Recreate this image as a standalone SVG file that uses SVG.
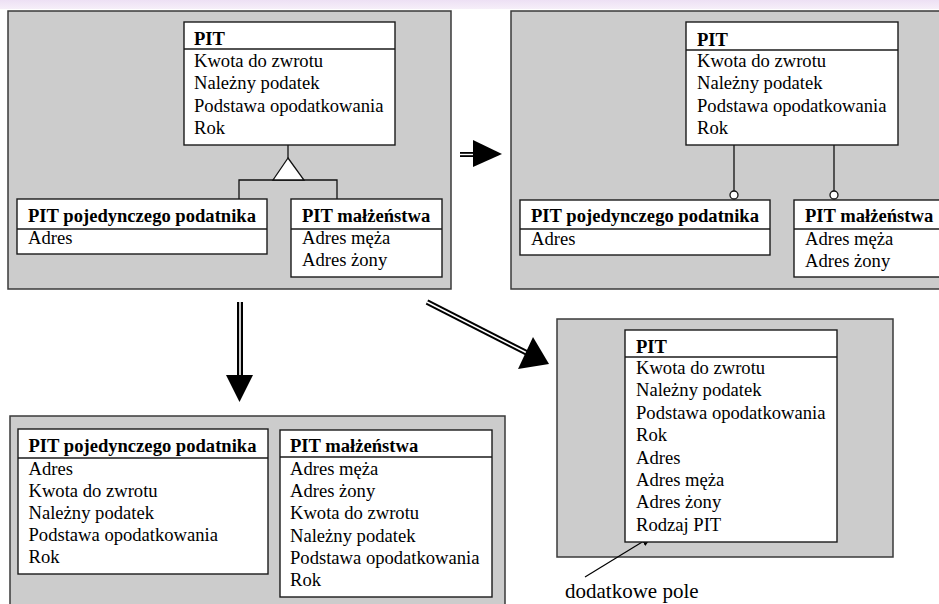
<svg xmlns="http://www.w3.org/2000/svg" width="939" height="604" viewBox="0 0 939 604">
<defs>
<linearGradient id="band" x1="0" y1="0" x2="0" y2="1">
<stop offset="0" stop-color="#ede0f4"/>
<stop offset="1" stop-color="#f6eff9"/>
</linearGradient>
<marker id="tip" markerWidth="12" markerHeight="10" refX="11" refY="5" orient="auto" markerUnits="userSpaceOnUse">
<path d="M0,0 L12,5 L0,10 z" fill="#000"/>
</marker>
</defs>
<style>
.panel{fill:#cccccc;stroke:#3a3a3a;stroke-width:1.5}
.box{fill:#ffffff;stroke:#1a1a1a;stroke-width:1.4}
.sep{stroke:#1a1a1a;stroke-width:1.4}
.ln{stroke:#111;stroke-width:1.3;fill:none}
text{font-family:"Liberation Serif","Times New Roman",serif;font-size:18.6px;fill:#000}
.h{font-weight:bold}
.shaft{stroke:#000;stroke-width:6;fill:none}
.shaftin{stroke:#fff;stroke-width:1.6;fill:none}
.head{fill:#000}
.circ{fill:#fff;stroke:#111;stroke-width:1.3}
</style>
<rect x="0" y="0" width="939" height="604" fill="#fff"/>
<rect x="0" y="0" width="939" height="9" fill="url(#band)"/>

<g id="panel-top-left">
<rect class="panel" x="8" y="11" width="443" height="278"/>
</g>
<g id="panel-top-right">
<rect class="panel" x="511" y="11" width="440" height="278"/>
</g>
<g id="panel-bottom-left">
<rect class="panel" x="10" y="416" width="495" height="200"/>
</g>
<g id="panel-bottom-right">
<rect class="panel" x="557" y="319" width="336" height="238"/>
</g>

<g id="connectors">
<!-- generalization -->
<line class="ln" x1="288" y1="145" x2="288" y2="158"/>
<polyline class="ln" points="239,199 239,180 337,180 337,199"/>
<polygon points="288,158 273,180 304,180" fill="#fff" stroke="#111" stroke-width="1.3"/>
<!-- optional links -->
<line class="ln" x1="734" y1="145" x2="734" y2="191"/>
<circle class="circ" cx="734" cy="195" r="4"/>
<line class="ln" x1="834" y1="145" x2="834" y2="191"/>
<circle class="circ" cx="834" cy="195" r="4"/>
<!-- transformation arrows -->
<line class="shaft" x1="460" y1="154.5" x2="475" y2="154.5" style="stroke-width:5"/>
<line class="shaftin" x1="460" y1="154.5" x2="475" y2="154.5" style="stroke-width:1.4"/>
<polygon class="head" points="473,140 502,154 473,167"/>
<line class="shaft" x1="240" y1="302" x2="240" y2="377"/>
<line class="shaftin" x1="240" y1="302" x2="240" y2="377"/>
<polygon class="head" points="226,375 253,375 239.5,402"/>
<line class="shaft" x1="427" y1="302" x2="527" y2="353" style="stroke-width:5.5"/>
<line class="shaftin" x1="427" y1="302" x2="527" y2="353"/>
<polygon class="head" points="533,337 549,364 518,369"/>
<!-- pointer -->
<line x1="585" y1="577" x2="652" y2="536" stroke="#000" stroke-width="1.2" marker-end="url(#tip)"/>
</g>

<g id="tl-pit">
<rect class="box" x="184" y="22" width="211" height="123"/>
<line class="sep" x1="184" y1="49" x2="395" y2="49"/>
<text class="h" x="194" y="45">PIT</text>
<text x="194" y="67">Kwota do zwrotu</text>
<text x="194" y="89.3">Należny podatek</text>
<text x="194" y="111.5">Podstawa opodatkowania</text>
<text x="194" y="133.7">Rok</text>
</g>
<g id="tl-pojedynczy">
<rect class="box" x="17" y="199" width="250" height="55"/>
<line class="sep" x1="17" y1="229" x2="267" y2="229"/>
<text class="h" x="28" y="222">PIT pojedynczego podatnika</text>
<text x="28" y="244">Adres</text>
</g>
<g id="tl-malzenstwo">
<rect class="box" x="291" y="199" width="151" height="78"/>
<line class="sep" x1="291" y1="229" x2="442" y2="229"/>
<text class="h" x="302" y="222">PIT małżeństwa</text>
<text x="302" y="244">Adres męża</text>
<text x="302" y="266">Adres żony</text>
</g>

<g id="tr-pit">
<rect class="box" x="686" y="22" width="212" height="123"/>
<line class="sep" x1="686" y1="50" x2="898" y2="50"/>
<text class="h" x="697" y="45.5">PIT</text>
<text x="697" y="67">Kwota do zwrotu</text>
<text x="697" y="89.3">Należny podatek</text>
<text x="697" y="111.5">Podstawa opodatkowania</text>
<text x="697" y="133.7">Rok</text>
</g>
<g id="tr-pojedynczy">
<rect class="box" x="520" y="200" width="250" height="55"/>
<line class="sep" x1="520" y1="229" x2="770" y2="229"/>
<text class="h" x="531" y="222">PIT pojedynczego podatnika</text>
<text x="531" y="245">Adres</text>
</g>
<g id="tr-malzenstwo">
<rect class="box" x="794" y="200" width="160" height="77"/>
<line class="sep" x1="794" y1="229" x2="954" y2="229"/>
<text class="h" x="805" y="222">PIT małżeństwa</text>
<text x="805" y="245">Adres męża</text>
<text x="805" y="267">Adres żony</text>
</g>

<g id="bl-pojedynczy">
<rect class="box" x="18" y="429" width="250" height="145"/>
<line class="sep" x1="18" y1="458" x2="268" y2="458"/>
<text class="h" x="28.5" y="452">PIT pojedynczego podatnika</text>
<text x="28.5" y="474.5">Adres</text>
<text x="28.5" y="496.7">Kwota do zwrotu</text>
<text x="28.5" y="518.9">Należny podatek</text>
<text x="28.5" y="541.1">Podstawa opodatkowania</text>
<text x="28.5" y="563.3">Rok</text>
</g>
<g id="bl-malzenstwo">
<rect class="box" x="280" y="430" width="212" height="167"/>
<line class="sep" x1="280" y1="457" x2="492" y2="457"/>
<text class="h" x="290" y="452">PIT małżeństwa</text>
<text x="290" y="475">Adres męża</text>
<text x="290" y="497.2">Adres żony</text>
<text x="290" y="519.4">Kwota do zwrotu</text>
<text x="290" y="541.6">Należny podatek</text>
<text x="290" y="563.8">Podstawa opodatkowania</text>
<text x="290" y="586">Rok</text>
</g>

<g id="br-pit">
<rect class="box" x="625" y="330" width="212" height="212"/>
<line class="sep" x1="625" y1="357" x2="837" y2="357"/>
<text class="h" x="636" y="352.7">PIT</text>
<text x="636" y="374">Kwota do zwrotu</text>
<text x="636" y="396.4">Należny podatek</text>
<text x="636" y="418.8">Podstawa opodatkowania</text>
<text x="636" y="441.2">Rok</text>
<text x="636" y="463.6">Adres</text>
<text x="636" y="486">Adres męża</text>
<text x="636" y="508.4">Adres żony</text>
<text x="636" y="530.8">Rodzaj PIT</text>
</g>

<g id="label-dodatkowe">
<text x="565" y="598" style="font-size:21px">dodatkowe pole</text>
</g>
</svg>
